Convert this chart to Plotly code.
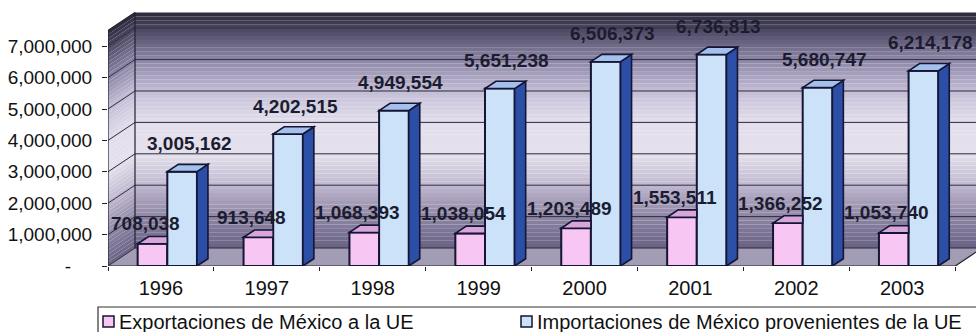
import plotly.graph_objects as go

# ---- data -------------------------------------------------------------
years = ["1996", "1997", "1998", "1999", "2000", "2001", "2002", "2003"]
exportaciones = [708038, 913648, 1068393, 1038054, 1203489, 1553511, 1366252, 1053740]
importaciones = [3005162, 4202515, 4949554, 5651238, 6506373, 6736813, 5680747, 6214178]
tick_values = [0, 1000000, 2000000, 3000000, 4000000, 5000000, 6000000, 7000000]
tick_labels = ["-\u00a0\u00a0\u00a0\u00a0", "1,000,000", "2,000,000", "3,000,000",
               "4,000,000", "5,000,000", "6,000,000", "7,000,000"]
legend_names = ["Exportaciones de México a la UE",
                "Importaciones de México provenientes de la UE"]

# ---- geometry (pixels) ------------------------------------------------
FIG_W, FIG_H = 976, 332
PLOT_L, PLOT_R, PLOT_T, PLOT_B = 108, 976, 12, 266
CAT_PX = 105.9                 # width of one category on the front plane
PX_PER_VAL = 31.4 / 1e6        # vertical pixels per unit of value
WALL_TOP = 7500000             # top of the walls, in value units

def dxu(px):
    return px / CAT_PX

def dyu(px):
    return px / PX_PER_VAL

X_MIN = -0.5
X_MAX = -0.5 + (PLOT_R - PLOT_L) / CAT_PX
Y_MAX = (PLOT_B - PLOT_T) / PX_PER_VAL
N = len(years)
X_END = N - 0.5

WDX, WDY = dxu(27), dyu(18)    # depth of the 3-D box
BDX, BDY = dxu(11), dyu(7.3)   # depth of each column
BAR_W = 0.28
OFF_EXP, OFF_IMP = -0.22, 0.06

OUTLINE = "#151535"
GRID = "#2a2a3c"
PINK, PINK_TOP = "#f7c6f2", "#d9a6dc"
BLUE, BLUE_TOP, BLUE_SIDE = "#cce2f8", "#a4c0ec", "#2b4ea6"
FONT = "Liberation Sans, Arial, sans-serif"

# wall shading: value -> colour stops
wall_stops = [
    (0.0, (0x6a, 0x62, 0x84)),
    (1.0e6, (0x8e, 0x86, 0xa4)),
    (2.0e6, (0xc0, 0xb8, 0xd0)),
    (3.0e6, (0xe4, 0xe0, 0xec)),
    (4.0e6, (0xe2, 0xde, 0xec)),
    (5.0e6, (0xc4, 0xbe, 0xd6)),
    (6.0e6, (0x8c, 0x86, 0xa6)),
    (7.0e6, (0x4a, 0x46, 0x60)),
    (7.5e6, (0x2a, 0x28, 0x3a)),
]

def wall_color(v):
    for (v0, c0), (v1, c1) in zip(wall_stops[:-1], wall_stops[1:]):
        if v0 <= v <= v1:
            t = (v - v0) / (v1 - v0)
            c = [round(a + (b - a) * t) for a, b in zip(c0, c1)]
            return "rgb(%d,%d,%d)" % tuple(c)
    c = wall_stops[-1][1]
    return "rgb(%d,%d,%d)" % c

def poly(pts):
    return "M " + " L ".join("%.5f,%.2f" % p for p in pts) + " Z"

shapes = []
STEPS = 60
for k in range(STEPS):
    v0 = WALL_TOP * k / STEPS
    v1 = WALL_TOP * (k + 1) / STEPS + 1
    col = wall_color((v0 + v1) / 2)
    # back wall band
    shapes.append(dict(type="rect", xref="x", yref="y", layer="below",
                       x0=X_MIN + WDX, x1=X_MAX + 1, y0=v0 + WDY, y1=v1 + WDY,
                       fillcolor=col, line=dict(width=0)))
    # side wall band
    shapes.append(dict(type="path", xref="x", yref="y", layer="below",
                       path=poly([(X_MIN, v0), (X_MIN + WDX, v0 + WDY),
                                  (X_MIN + WDX, v1 + WDY), (X_MIN, v1)]),
                       fillcolor=col, line=dict(width=0)))

# floor
shapes.append(dict(type="path", xref="x", yref="y", layer="below",
                   path=poly([(X_MIN, 0), (X_END, 0), (X_END + WDX, WDY), (X_MIN + WDX, WDY)]),
                   fillcolor="#a29cb4", line=dict(width=0)))

# gridlines on the back and side walls
for v in tick_values:
    shapes.append(dict(type="line", xref="x", yref="y", layer="below",
                       x0=X_MIN + WDX, x1=X_MAX + 1, y0=v + WDY, y1=v + WDY,
                       line=dict(color=GRID, width=1)))
    shapes.append(dict(type="line", xref="x", yref="y", layer="below",
                       x0=X_MIN, x1=X_MIN + WDX, y0=v, y1=v + WDY,
                       line=dict(color=GRID, width=1)))

# box edges
edges = [
    ((X_MIN + WDX, WDY), (X_MIN + WDX, WALL_TOP + WDY)),
    ((X_MIN, 0), (X_MIN, WALL_TOP)),
    ((X_MIN, WALL_TOP), (X_MIN + WDX, WALL_TOP + WDY)),
    ((X_MIN, 0), (X_END, 0)),
    ((X_END, 0), (X_END + WDX, WDY)),
]
for (xa, ya), (xb, yb) in edges:
    shapes.append(dict(type="line", xref="x", yref="y", layer="below",
                       x0=xa, y0=ya, x1=xb, y1=yb, line=dict(color="#202030", width=1.2)))

# 3-D faces of the columns
for i in range(N):
    # export column: top face, hidden behind the import column on the right
    x0 = i + OFF_EXP
    x1 = x0 + BAR_W
    v = exportaciones[i]
    shapes.append(dict(type="path", xref="x", yref="y", layer="above",
                       path=poly([(x0, v), (x1, v), (x1, v + BDY), (x0 + BDX, v + BDY)]),
                       fillcolor=PINK_TOP, line=dict(color=OUTLINE, width=1.6)))
    # import column: side and top faces
    x0 = i + OFF_IMP
    x1 = x0 + BAR_W
    v = importaciones[i]
    shapes.append(dict(type="path", xref="x", yref="y", layer="above",
                       path=poly([(x1, 0), (x1 + BDX, BDY), (x1 + BDX, v + BDY), (x1, v)]),
                       fillcolor=BLUE_SIDE, line=dict(color=OUTLINE, width=1.6)))
    shapes.append(dict(type="path", xref="x", yref="y", layer="above",
                       path=poly([(x0, v), (x1, v), (x1 + BDX, v + BDY), (x0 + BDX, v + BDY)]),
                       fillcolor=BLUE_TOP, line=dict(color=OUTLINE, width=1.6)))

fig = go.Figure()
fig.add_trace(go.Bar(name=legend_names[0], x=years, y=exportaciones,
                     offset=OFF_EXP, width=BAR_W,
                     marker=dict(color=PINK, line=dict(color=OUTLINE, width=2))))
fig.add_trace(go.Bar(name=legend_names[1], x=years, y=importaciones,
                     offset=OFF_IMP, width=BAR_W,
                     marker=dict(color=BLUE, line=dict(color=OUTLINE, width=2))))

# value labels
annotations = []
for i in range(N):
    annotations.append(dict(xref="x", yref="y", x=i + OFF_EXP + BAR_W / 2, y=exportaciones[i],
                            text=f"{exportaciones[i]:,}", showarrow=False,
                            xshift=-7, yshift=20,
                            font=dict(family=FONT, size=19, color="#1c1c30", weight="bold")))
    annotations.append(dict(xref="x", yref="y", x=i + OFF_IMP + BAR_W / 2, y=importaciones[i],
                            text=f"{importaciones[i]:,}", showarrow=False,
                            xshift=7, yshift=28,
                            font=dict(family=FONT, size=19, color="#1c1c30", weight="bold")))

# legend box drawn in paper space
PW = PLOT_R - PLOT_L
PH = PLOT_B - PLOT_T

def px_x(px):
    return (px - PLOT_L) / PW

def px_y(py):
    return (PLOT_B - py) / PH

shapes.append(dict(type="rect", xref="paper", yref="paper", layer="above",
                   x0=px_x(98), x1=px_x(990), y0=px_y(307), y1=px_y(345),
                   fillcolor="white", line=dict(color="#333333", width=1.2)))
legend_items = [(103, legend_names[0], PINK), (521, legend_names[1], BLUE)]
for sx, name, col in legend_items:
    shapes.append(dict(type="rect", xref="paper", yref="paper", layer="above",
                       x0=px_x(sx), x1=px_x(sx + 11), y0=px_y(316), y1=px_y(327),
                       fillcolor=col, line=dict(color=OUTLINE, width=1.5)))
    annotations.append(dict(xref="paper", yref="paper", x=px_x(sx + 14), y=px_y(322),
                            xanchor="left", yanchor="middle", text=name, showarrow=False,
                            font=dict(family=FONT, size=20, color="#111111")))

fig.update_layout(
    width=FIG_W, height=FIG_H,
    margin=dict(l=PLOT_L, r=FIG_W - PLOT_R, t=PLOT_T, b=FIG_H - PLOT_B, pad=0),
    paper_bgcolor="white", plot_bgcolor="rgba(0,0,0,0)",
    barmode="overlay", showlegend=False,
    shapes=shapes, annotations=annotations,
    font=dict(family=FONT, color="#111111"),
    xaxis=dict(type="category", range=[X_MIN, X_MAX], showgrid=False, zeroline=False,
               showline=False, ticks="outside", tickson="boundaries", ticklen=4,
               tickcolor="#202030", ticklabelstandoff=8,
               tickfont=dict(family=FONT, size=20, color="#111111")),
    yaxis=dict(range=[0, Y_MAX], showgrid=False, zeroline=False, showline=False,
               tickvals=tick_values, ticktext=tick_labels, ticks="outside", ticklen=5,
               tickcolor="#202030", ticklabelstandoff=6,
               tickfont=dict(family=FONT, size=19, color="#111111")),
)

fig.write_html("out.html")
